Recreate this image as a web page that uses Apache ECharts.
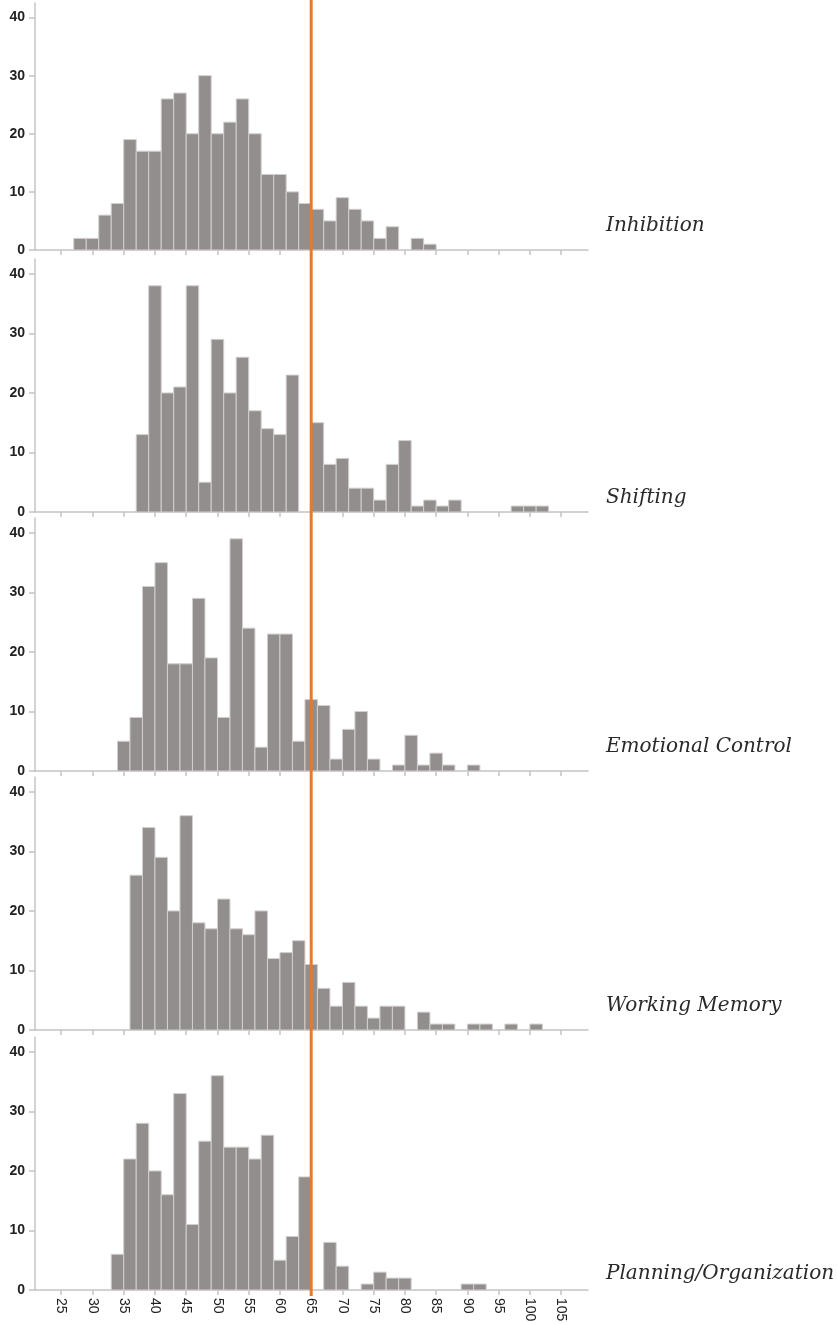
<!DOCTYPE html>
<html>
<head>
<meta charset="utf-8">
<script src="https://cdn.jsdelivr.net/npm/echarts@6/dist/echarts.min.js"></script>
<style>
  html, body { margin: 0; padding: 0; background: #fff; }
  #chart { width: 837px; height: 1325px; }
</style>
</head>
<body>
<div id="chart"></div>
<script>
// panel names, top to bottom
const panelNames = ['Inhibition', 'Shifting', 'Emotional Control', 'Working Memory', 'Planning/Organization']

// each histogram: left edge of the first bin, then counts per 2-point bin
const binWidth = 2
const inhibitionStart = 27
const inhibitionCounts = [2, 2, 6, 8, 19, 17, 17, 26, 27, 20, 30, 20, 22, 26, 20, 13, 13, 10, 8, 7, 5, 9, 7, 5, 2, 4, 0, 2, 1]
const shiftingStart = 37
const shiftingCounts = [13, 38, 20, 21, 38, 5, 29, 20, 26, 17, 14, 13, 23, 0, 15, 8, 9, 4, 4, 2, 8, 12, 1, 2, 1, 2, 0, 0, 0, 0, 1, 1, 1]
const emotionalStart = 34
const emotionalCounts = [5, 9, 31, 35, 18, 18, 29, 19, 9, 39, 24, 4, 23, 23, 5, 12, 11, 2, 7, 10, 2, 0, 1, 6, 1, 3, 1, 0, 1]
const workingStart = 36
const workingCounts = [26, 34, 29, 20, 36, 18, 17, 22, 17, 16, 20, 12, 13, 15, 11, 7, 4, 8, 4, 2, 4, 4, 0, 3, 1, 1, 0, 1, 1, 0, 1, 0, 1]
const planningStart = 33
const planningCounts = [6, 22, 28, 20, 16, 33, 11, 25, 36, 24, 24, 22, 26, 5, 9, 19, 0, 8, 4, 0, 1, 3, 2, 2, 0, 0, 0, 0, 1, 1]

const tickValues = [25, 30, 35, 40, 45, 50, 55, 60, 65, 70, 75, 80, 85, 90, 95, 100, 105]
const yTickValues = [0, 10, 20, 30, 40]
const cutoff = 65

const starts = [inhibitionStart, shiftingStart, emotionalStart, workingStart, planningStart]
const counts = [inhibitionCounts, shiftingCounts, emotionalCounts, workingCounts, planningCounts]

// panel boxes (px)
const gridTops = [3, 259, 518, 777, 1037]
const gridHeights = [247, 253, 253, 253, 253]
const labelTops = [216, 488, 737, 996, 1264]

const xMin = 20.8, xMax = 109.3

const myChart = echarts.init(document.getElementById('chart'))

const grids = [], xAxes = [], yAxes = [], series = [], titles = []

panelNames.forEach((name, i) => {
  const last = i === panelNames.length - 1
  grids.push({ left: 35, width: 553, top: gridTops[i], height: gridHeights[i] })
  xAxes.push({
    type: 'value', gridIndex: i, min: xMin, max: xMax,
    axisLine: { show: true, lineStyle: { color: '#c4c4c4', width: 1.5 } },
    axisTick: { show: true, length: 5, customValues: tickValues, lineStyle: { color: '#c4c4c4', width: 1.5 } },
    axisLabel: {
      show: last, customValues: tickValues, rotate: -90, margin: 8,
      color: '#222', fontSize: 14, fontFamily: 'Liberation Sans, Arial, sans-serif'
    },
    splitLine: { show: false }
  })
  yAxes.push({
    type: 'value', gridIndex: i, min: 0, max: 42.5,
    axisLine: { show: true, lineStyle: { color: '#c4c4c4', width: 1.5 } },
    axisTick: { show: true, length: 6, customValues: yTickValues, lineStyle: { color: '#c4c4c4', width: 1.5 } },
    axisLabel: {
      customValues: yTickValues, margin: 10,
      color: '#222', fontSize: 14, fontWeight: 'bold', fontFamily: 'Liberation Sans, Arial, sans-serif'
    },
    splitLine: { show: false }
  })
  const bins = counts[i].map((c, k) => [starts[i] + k * binWidth, c])
  series.push({
    type: 'custom', xAxisIndex: i, yAxisIndex: i,
    data: bins,
    renderItem: (params, api) => {
      const x0 = api.value(0), c = api.value(1)
      if (!c) return
      const p0 = api.coord([x0, c])
      const p1 = api.coord([x0 + binWidth, 0])
      return {
        type: 'rect',
        shape: { x: p0[0], y: p0[1], width: p1[0] - p0[0], height: p1[1] - p0[1] },
        style: { fill: '#928e8d', stroke: '#d3cfce', lineWidth: 1 }
      }
    }
  })
  titles.push({
    text: name, left: 606, top: labelTops[i], padding: 0,
    textStyle: { fontFamily: 'DejaVu Serif, serif', fontStyle: 'italic', fontWeight: 'normal', fontSize: 20, color: '#2a2a2a' }
  })
})

// overlay grid for the cut-off line running through all panels
grids.push({ left: 35, width: 553, top: 0, height: 1296 })
xAxes.push({ type: 'value', gridIndex: 5, min: xMin, max: xMax, show: false })
yAxes.push({ type: 'value', gridIndex: 5, min: 0, max: 1, show: false })
series.push({
  type: 'line', xAxisIndex: 5, yAxisIndex: 5, z: 10,
  data: [[cutoff, 0], [cutoff, 1]],
  symbol: 'none', silent: true,
  lineStyle: { color: '#e8792b', width: 3 }
})

const option = {
  animation: false,
  backgroundColor: '#fff',
  title: titles,
  grid: grids,
  xAxis: xAxes,
  yAxis: yAxes,
  series: series
}
myChart.setOption(option)
</script>
</body>
</html>
